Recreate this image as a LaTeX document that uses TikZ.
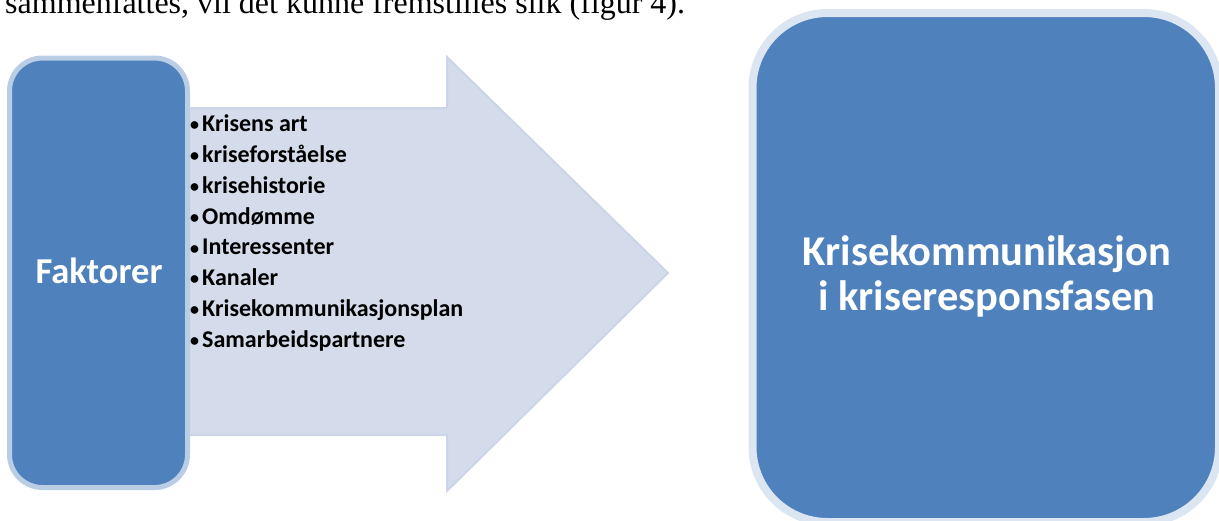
\documentclass[tikz,border=0pt]{standalone}
\usepackage{fontspec}
\setmainfont{Liberation Serif}
\newfontfamily\calib{Carlito}
\definecolor{boxblue}{HTML}{4F81BD}
\definecolor{leftrim}{HTML}{B9CDE5}
\definecolor{rightrim}{HTML}{DCE6F2}
\definecolor{arrowfill}{HTML}{D4DBEA}
\definecolor{arrowline}{HTML}{CCD5E8}
\newcommand{\lbul}{\makebox[12pt][l]{\raisebox{0.8pt}{\fontsize{18}{18}\selectfont•}}}
\tikzset{
  listitem/.style={anchor=base west, inner sep=0pt, font=\calib\bfseries\fontsize{24}{28}\selectfont, text=black},
  whitetext/.style={inner sep=0pt, font=\calib\bfseries, text=white},
}
\begin{document}
\begin{tikzpicture}[x=1pt,y=-1pt]
\useasboundingbox (0,0) rectangle (1219,520);
% cut-off line of running text above the figure
\node[anchor=base west, inner sep=0pt, font=\fontsize{32}{36}\selectfont] (para) at (5,13.3) {sammenfattes, vil det kunne fremstilles slik (figur 4).};
% big arrow
\draw[fill=arrowfill, draw=arrowline, line width=2pt, line join=miter]
  (150,108) -- (447,108) -- (447,57) -- (668,273) -- (447,491) -- (447,435) -- (150,435) -- cycle;
% left box
\node[draw=leftrim, fill=boxblue, line width=5pt, rounded corners=33pt, minimum width=178pt, minimum height=429.5pt, inner sep=0pt] (fakt) at (98.5,272.75) {};
\node[whitetext, anchor=base, font=\calib\bfseries\fontsize{36.5}{40}\selectfont] (fakttxt) at (99,283) {Faktorer};
% list
\foreach \t [count=\i] in {Krisens art, kriseforståelse, krisehistorie, Omdømme, Interessenter, Kanaler, Krisekommunikasjonsplan, Samarbeidspartnere}{
  \node[listitem] (l\i) at (190,{131.7+30.8*(\i-1)}) {\lbul\t};
}
% right box
\node[draw=rightrim, fill=boxblue, line width=8pt, rounded corners=75pt, minimum width=466.5pt, minimum height=509pt, inner sep=0pt] (krise) at (985.75,267.5) {};
\node[whitetext, anchor=base, font=\calib\bfseries\fontsize{42.5}{45}\selectfont] (k1) at (987,265) {Krisekommunikasjon};
\node[whitetext, anchor=base, font=\calib\bfseries\fontsize{42.5}{45}\selectfont] (k2) at (987,310) {i kriseresponsfasen};
\end{tikzpicture}
\end{document}
